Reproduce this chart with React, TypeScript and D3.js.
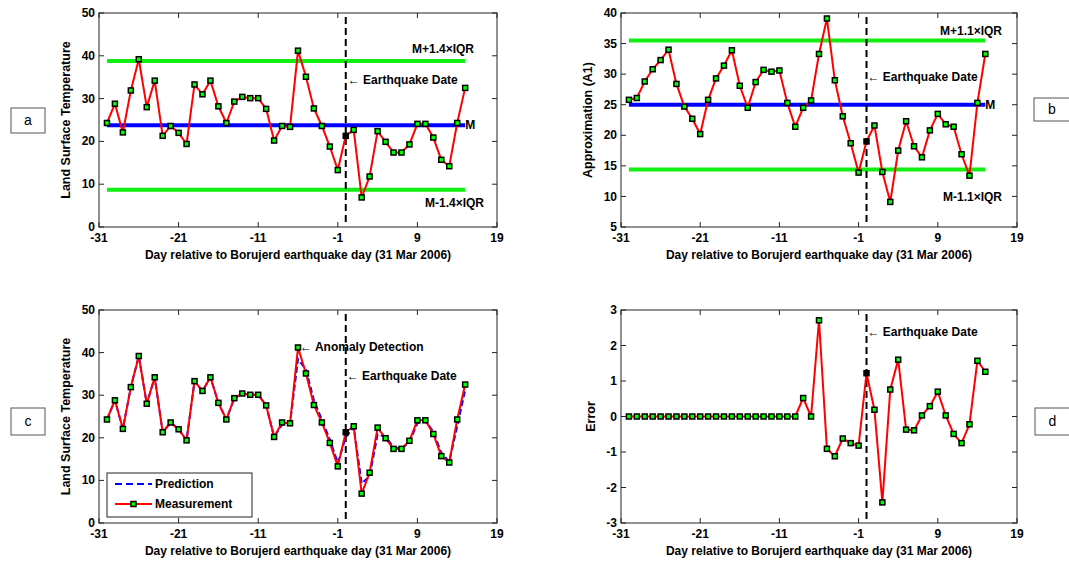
import React from 'react';
import * as d3 from 'd3';

// ---------- data ----------
const days = [-30, -29, -28, -27, -26, -25, -24, -23, -22, -21, -20, -19, -18, -17, -16, -15, -14, -13, -12, -11, -10, -9, -8, -7, -6, -5, -4, -3, -2, -1, 0, 1, 2, 3, 4, 5, 6, 7, 8, 9, 10, 11, 12, 13, 14, 15];
const measurement = [24.3, 28.8, 22.1, 31.9, 39.2, 28.0, 34.2, 21.3, 23.6, 22.0, 19.4, 33.3, 31.0, 34.2, 28.2, 24.3, 29.3, 30.4, 30.1, 30.1, 27.6, 20.2, 23.6, 23.4, 41.2, 35.1, 27.7, 23.6, 18.8, 13.3, 21.3, 22.7, 6.9, 11.8, 22.4, 19.9, 17.4, 17.4, 19.3, 24.1, 24.1, 20.9, 15.7, 14.2, 24.3, 32.5];
const approximation = [25.8, 26.1, 28.8, 30.8, 32.3, 34.0, 28.4, 24.7, 22.7, 20.2, 25.8, 29.3, 31.4, 33.9, 28.1, 24.5, 28.7, 30.7, 30.4, 30.6, 25.3, 21.4, 24.5, 25.7, 33.3, 39.1, 29.0, 23.1, 18.7, 13.9, 19.0, 21.6, 14.0, 9.1, 17.5, 22.3, 18.2, 16.4, 20.8, 23.5, 21.8, 21.4, 16.9, 13.4, 25.3, 33.3];
const prediction = [24.3, 28.8, 22.1, 31.9, 39.2, 28.0, 34.2, 21.3, 23.6, 22.0, 19.4, 33.3, 31.0, 34.2, 28.2, 24.3, 29.3, 30.4, 30.1, 30.1, 27.6, 20.2, 23.1, 23.4, 38.5, 36.0, 28.8, 24.2, 19.6, 14.1, 20.1, 22.5, 9.3, 11.0, 20.8, 20.3, 17.8, 17.4, 19.0, 23.4, 24.1, 21.4, 16.5, 14.4, 22.7, 31.2];
const errorValues = [0, 0, 0, 0, 0, 0, 0, 0, 0, 0, 0, 0, 0, 0, 0, 0, 0, 0, 0, 0, 0, 0, 0.52, 0, 2.71, -0.91, -1.12, -0.62, -0.75, -0.82, 1.22, 0.19, -2.42, 0.76, 1.60, -0.37, -0.39, 0.03, 0.29, 0.70, 0.03, -0.49, -0.75, -0.22, 1.57, 1.26];

const xTicks = [-31, -21, -11, -1, 9, 19];
const tempTicks = [0, 10, 20, 30, 40, 50];
const approxTicks = [5, 10, 15, 20, 25, 30, 35, 40];
const errorTicks = [-3, -2, -1, 0, 1, 2, 3];
const quakeDay = 0;
const anomalyDay = -6;

const lstBands = [38.8, 23.8, 8.7]; // upper, median, lower
const lstBandLabels = ['M+1.4×IQR', 'M', 'M-1.4×IQR'];
const a1Bands = [35.5, 25.0, 14.4];
const a1BandLabels = ['M+1.1×IQR', 'M', 'M-1.1×IQR'];

const xLabel = 'Day relative to Borujerd earthquake day (31 Mar 2006)';

const FONT = '"Liberation Sans", Arial, Helvetica, sans-serif';

type Box = { x0: number; x1: number; y0: number; y1: number };

function Marker({ cx, cy, black }: { cx: number; cy: number; black?: boolean }) {
  return <rect x={cx - 2.5} y={cy - 2.5} width={5} height={5} fill={black ? '#000' : '#00ff00'} stroke="#000" strokeWidth={1.5} />;
}

function Series({ xs, ys, x, y }: { xs: number[]; ys: number[]; x: any; y: any }) {
  const line = d3.line<number>().x((_, i) => x(xs[i])).y((v) => y(v));
  return (
    <g>
      <path d={line(ys) || ''} fill="none" stroke="#ff0000" strokeWidth={2} />
      {ys.map((v, i) => (
        <Marker key={i} cx={x(xs[i])} cy={y(v)} black={xs[i] === quakeDay} />
      ))}
    </g>
  );
}

function Axes({ box, x, y, yTicks, ylabel, ylabelX }: { box: Box; x: any; y: any; yTicks: number[]; ylabel: string; ylabelX: number }) {
  const t = 5;
  const cy = (box.y0 + box.y1) / 2;
  const cx = (box.x0 + box.x1) / 2;
  return (
    <g fontFamily={FONT} fontWeight="bold" fontSize={12} fill="#000">
      <rect x={box.x0} y={box.y0} width={box.x1 - box.x0} height={box.y1 - box.y0} fill="none" stroke="#222" strokeWidth={1} />
      {xTicks.map((v) => (
        <g key={'x' + v}>
          <line x1={x(v)} x2={x(v)} y1={box.y1} y2={box.y1 - t} stroke="#222" />
          <line x1={x(v)} x2={x(v)} y1={box.y0} y2={box.y0 + t} stroke="#222" />
          <text x={x(v)} y={box.y1 + 15} textAnchor="middle">{v}</text>
        </g>
      ))}
      {yTicks.map((v) => (
        <g key={'y' + v}>
          <line x1={box.x0} x2={box.x0 + t} y1={y(v)} y2={y(v)} stroke="#222" />
          <line x1={box.x1} x2={box.x1 - t} y1={y(v)} y2={y(v)} stroke="#222" />
          <text x={box.x0 - 4} y={y(v)} dy="0.34em" textAnchor="end">{v}</text>
        </g>
      ))}
      <text x={cx} y={box.y1 + 32} textAnchor="middle">{xLabel}</text>
      <text transform={`translate(${ylabelX},${cy}) rotate(-90)`} textAnchor="middle" fontSize={12.5}>{ylabel}</text>
    </g>
  );
}

function QuakeLine({ box, x }: { box: Box; x: any }) {
  return <line x1={x(quakeDay)} x2={x(quakeDay)} y1={box.y0 + 4} y2={box.y1 - 4} stroke="#000" strokeWidth={2} strokeDasharray="7,4" />;
}

function Label({ x, y, text }: { x: number; y: number; text: string }) {
  return (
    <text x={x} y={y} fontFamily={FONT} fontWeight="bold" fontSize={12}>{text}</text>
  );
}

function PanelTag({ x, y, w, h, letter }: { x: number; y: number; w: number; h: number; letter: string }) {
  return (
    <g>
      <rect x={x} y={y} width={w} height={h} fill="#fff" stroke="#555" strokeWidth={1} />
      <text x={x + w / 2} y={y + h / 2} dy="0.35em" textAnchor="middle" fontFamily={FONT} fontSize={14}>{letter}</text>
    </g>
  );
}

export default function App() {
  const boxA: Box = { x0: 99, x1: 497, y0: 13, y1: 227 };
  const boxB: Box = { x0: 621, x1: 1017, y0: 13, y1: 227 };
  const boxC: Box = { x0: 99, x1: 497, y0: 310, y1: 523 };
  const boxD: Box = { x0: 621, x1: 1017, y0: 310, y1: 523 };

  const xA = d3.scaleLinear().domain([-31, 19]).range([boxA.x0, boxA.x1]);
  const xB = d3.scaleLinear().domain([-31, 19]).range([boxB.x0, boxB.x1]);
  const yA = d3.scaleLinear().domain([0, 50]).range([boxA.y1, boxA.y0]);
  const yB = d3.scaleLinear().domain([5, 40]).range([boxB.y1, boxB.y0]);
  const yC = d3.scaleLinear().domain([0, 50]).range([boxC.y1, boxC.y0]);
  const yD = d3.scaleLinear().domain([-3, 3]).range([boxD.y1, boxD.y0]);

  const first = days[0];
  const last = days[days.length - 1];
  const bandColors = ['#11ee11', '#0000ff', '#11ee11'];

  const predLine = d3.line<number>().x((_, i) => xA(days[i])).y((v) => yC(v));
  const anomalyIdx = days.indexOf(anomalyDay);

  return (
    <div style={{ position: 'absolute', left: 0, top: 0 }}>
      <svg width={1069} height={562} style={{ display: 'block', background: '#fff' }}>
        {/* Panel a */}
        <g>
          {lstBands.map((v, i) => (
            <line key={i} x1={xA(first)} x2={xA(last)} y1={yA(v)} y2={yA(v)} stroke={bandColors[i]} strokeWidth={4} />
          ))}
          <QuakeLine box={boxA} x={xA} />
          <Series xs={days} ys={measurement} x={xA} y={yA} />
          <Axes box={boxA} x={xA} y={yA} yTicks={tempTicks} ylabel="Land Surface Temperature" ylabelX={70} />
          <Label x={412} y={yA(lstBands[0]) - 8} text={lstBandLabels[0]} />
          <Label x={xA(last)} y={yA(lstBands[1]) + 4} text={lstBandLabels[1]} />
          <Label x={425} y={yA(lstBands[2]) + 17} text={lstBandLabels[2]} />
          <Label x={xA(quakeDay) + 2} y={84} text="← Earthquake Date" />
        </g>
        {/* Panel b */}
        <g>
          {a1Bands.map((v, i) => (
            <line key={i} x1={xB(first)} x2={xB(last)} y1={yB(v)} y2={yB(v)} stroke={bandColors[i]} strokeWidth={4} />
          ))}
          <QuakeLine box={boxB} x={xB} />
          <Series xs={days} ys={approximation} x={xB} y={yB} />
          <Axes box={boxB} x={xB} y={yB} yTicks={approxTicks} ylabel="Approximation (A1)" ylabelX={592} />
          <Label x={940} y={yB(a1Bands[0]) - 6} text={a1BandLabels[0]} />
          <Label x={xB(last)} y={yB(a1Bands[1]) + 4} text={a1BandLabels[1]} />
          <Label x={943} y={yB(a1Bands[2]) + 31} text={a1BandLabels[2]} />
          <Label x={xB(quakeDay) + 1} y={81} text="← Earthquake Date" />
        </g>
        {/* Panel c */}
        <g>
          <QuakeLine box={boxC} x={xA} />
          <path d={predLine(prediction) || ''} fill="none" stroke="#0000ff" strokeWidth={2} strokeDasharray="6,3" />
          <Series xs={days} ys={measurement} x={xA} y={yC} />
          <Axes box={boxC} x={xA} y={yC} yTicks={tempTicks} ylabel="Land Surface Temperature" ylabelX={70} />
          <Label x={xA(anomalyDay) + 2} y={yC(measurement[anomalyIdx]) + 4} text="← Anomaly Detection" />
          <Label x={xA(quakeDay) + 1} y={380} text="← Earthquake Date" />
          {/* legend */}
          <g fontFamily={FONT} fontWeight="bold" fontSize={12}>
            <rect x={107} y={473} width={145} height={44} fill="#fff" stroke="#222" strokeWidth={1} />
            <line x1={115} x2={152} y1={484} y2={484} stroke="#0000ff" strokeWidth={2} strokeDasharray="7,4" />
            <text x={155} y={488}>Prediction</text>
            <line x1={115} x2={152} y1={504} y2={504} stroke="#ff0000" strokeWidth={2} />
            <Marker cx={133.5} cy={504} />
            <text x={155} y={508}>Measurement</text>
          </g>
        </g>
        {/* Panel d */}
        <g>
          <QuakeLine box={boxD} x={xB} />
          <Series xs={days} ys={errorValues} x={xB} y={yD} />
          <Axes box={boxD} x={xB} y={yD} yTicks={errorTicks} ylabel="Error" ylabelX={595} />
          <Label x={xB(quakeDay) + 1} y={336} text="← Earthquake Date" />
        </g>
        <PanelTag x={11} y={108} w={34} h={25} letter="a" />
        <PanelTag x={1034} y={98} w={36} h={23} letter="b" />
        <PanelTag x={11} y={408} w={34} h={27} letter="c" />
        <PanelTag x={1035} y={408} w={35} h={27} letter="d" />
      </svg>
    </div>
  );
}
